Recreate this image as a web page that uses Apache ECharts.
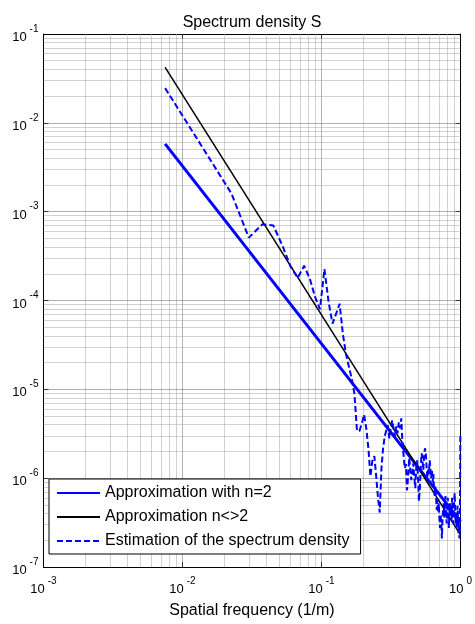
<!DOCTYPE html>
<html><head><meta charset="utf-8">
<script src="https://cdn.jsdelivr.net/npm/echarts@6/dist/echarts.min.js"></script>
<style>html,body{margin:0;padding:0;background:#fff}#c{width:475px;height:624px}</style>
</head><body><div id="c"></div>
<script>
const freqStep = 0.0075;   // spectral line spacing (1/m)
const estimation = [
  2.46e-2, 4.4e-3, 1.6e-3, 5.1e-4, 7.2e-4, 7.0e-4, 4.1e-4, 2.4e-4, 1.8e-4, 2.46e-4,
  1.75e-4, 1.09e-4, 8.0e-5, 2.26e-4, 9.6e-5, 5.5e-5, 7.1e-5, 9.2e-5, 4.2e-5, 2.5e-5,
  1.8e-5, 1.32e-5, 9.0e-6, 3.45e-6, 3.37e-6, 4.14e-6, 5.2e-6, 3.64e-6, 2.17e-6, 1.05e-6,
  1.59e-6, 1.77e-6, 1.05e-6, 6.0e-7, 4.1e-7, 1.29e-6, 2.17e-6, 2.96e-6, 3.45e-6, 3.93e-6,
  2.81e-6, 3.64e-6, 4.47e-6, 3.64e-6, 2.96e-6, 3.83e-6, 3.19e-6, 4.25e-6, 3.64e-6, 4.71e-6,
  2.47e-6, 1.77e-6, 1.29e-6, 1.44e-6, 7.3e-7, 1.05e-6, 1.68e-6, 1.29e-6, 9.5e-7, 1.11e-6,
  1.47e-6, 1.05e-6, 7.7e-7, 1.29e-6, 1.59e-6, 1.0e-6, 5.5e-7, 7.7e-7, 1.29e-6, 1.91e-6,
  1.59e-6, 1.23e-6, 1.77e-6, 2.17e-6, 2.01e-6, 1.36e-6, 1.0e-6, 1.29e-6, 1.11e-6, 1.59e-6,
  1.29e-6, 1.0e-6, 1.23e-6, 9.0e-7, 1.11e-6, 7.7e-7, 6.3e-7, 8.1e-7, 6.0e-7, 4.4e-7,
  5.7e-7, 4.2e-7, 5.2e-7, 3.6e-7, 2.75e-7, 3.9e-7, 3.05e-7, 2.1e-7, 3.4e-7, 4.4e-7,
  5.2e-7, 3.6e-7, 4.6e-7, 6.3e-7, 4.4e-7, 3.1e-7, 4.9e-7, 6.0e-7, 4.1e-7, 2.75e-7,
  4.1e-7, 5.2e-7, 3.7e-7, 4.6e-7, 3.4e-7, 6.0e-7, 4.4e-7, 3.1e-7, 4.1e-7, 5.2e-7,
  6.8e-7, 4.6e-7, 3.1e-7, 4.1e-7, 2.75e-7, 3.7e-7, 4.9e-7, 3.6e-7, 2.4e-7, 3.1e-7,
  2.1e-7, 2.9e-7, 3.1e-6
];
const approxN2Freq = [0.0075, 1];
const approxN2 = [5.8e-3, 3.26e-7];
const approxNFreq = [0.0075, 1];
const approxN = [4.2e-2, 2.3e-7];
const seriesNames = ['Approximation with n=2', 'Approximation n<>2', 'Estimation of the spectrum density'];
const xDecades = [-3, -2, -1, 0];
const yDecades = [-7, -6, -5, -4, -3, -2, -1];

const FONT = 'Liberation Sans, Arial, sans-serif';
const X_MIN = 0.001, X_MAX = 1, Y_MIN = 1e-7, Y_MAX = 0.1;
const estData = estimation.map((v, i) => [(i + 1) * freqStep, v]);
const n2Data = approxN2Freq.map((f, i) => [f, approxN2[i]]);
const nData = approxNFreq.map((f, i) => [f, approxN[i]]);

const MINOR = { color: '#a3a3a3', width: 1 };
const MAJOR = { color: '#666666', width: 1 };
function gridSegments(decades, vertical) {
  const out = [];
  for (let d = decades[0]; d < decades[decades.length - 1]; d++) {
    for (let m = 1; m <= 9; m++) {
      if (m === 1 && d === decades[0]) continue;
      const v = m * Math.pow(10, d);
      out.push({
        coords: vertical ? [[v, Y_MIN], [v, Y_MAX]] : [[X_MIN, v], [X_MAX, v]],
        lineStyle: m === 1 ? MAJOR : MINOR
      });
    }
  }
  return out;
}

const powLabel = v => '{b|10}{e|' + Math.round(Math.log10(v)) + '}';
const rich = {
  b: { fontFamily: FONT, fontSize: 13, color: '#000', lineHeight: 20, verticalAlign: 'bottom' },
  e: { fontFamily: FONT, fontSize: 10, color: '#000', lineHeight: 20, verticalAlign: 'top', padding: [0, 0, 0, 3] }
};

const chart = echarts.init(document.getElementById('c'), null, { renderer: 'canvas' });
const commonX = { type: 'log', logBase: 10, min: X_MIN, max: X_MAX, interval: 1 };
const commonY = { type: 'log', logBase: 10, min: Y_MIN, max: Y_MAX, interval: 1 };
const edgeAxis = {
  axisLine: { show: true, lineStyle: { color: '#000', width: 1 } },
  axisTick: { show: true, inside: true, length: 5, lineStyle: { color: '#000' } },
  splitLine: { show: false }
};
chart.setOption({
  animation: false,
  backgroundColor: '#fff',
  title: {
    text: 'Spectrum density S', left: 247, top: 10, textAlign: 'center',
    textStyle: { fontFamily: FONT, fontSize: 16, fontWeight: 'normal', color: '#000' }
  },
  grid: { left: 43.5, right: 9, top: 34, bottom: 55, show: false, containLabel: false },
  legend: {
    data: seriesNames, orient: 'vertical', left: 49, top: 479,
    backgroundColor: '#fff', borderColor: '#000', borderWidth: 1, borderRadius: 0,
    padding: [6, 11, 5, 7], itemWidth: 43, itemHeight: 16, itemGap: 8,
    itemStyle: { opacity: 0 },
    textStyle: { fontFamily: FONT, fontSize: 16, color: '#000' },
    selectedMode: false
  },
  xAxis: [
    Object.assign({}, commonX, edgeAxis, {
      position: 'bottom',
      name: 'Spatial frequency (1/m)', nameLocation: 'middle', nameGap: 36,
      nameTextStyle: { fontFamily: FONT, fontSize: 16, color: '#000' },
      axisLabel: { formatter: powLabel, rich: rich, margin: 9 }
    }),
    Object.assign({}, commonX, edgeAxis, { position: 'top', axisLabel: { show: false } })
  ],
  yAxis: [
    Object.assign({}, commonY, edgeAxis, {
      position: 'left',
      axisLabel: { formatter: powLabel, rich: rich, margin: 5 }
    }),
    Object.assign({}, commonY, edgeAxis, { position: 'right', axisLabel: { show: false } })
  ],
  series: [
    {
      name: 'gridlines', type: 'lines', coordinateSystem: 'cartesian2d', silent: true, z: 1,
      polyline: false, symbol: ['none', 'none'], effect: { show: false },
      data: gridSegments(xDecades, true).concat(gridSegments(yDecades, false))
    },
    {
      name: seriesNames[0], type: 'line', data: n2Data, symbol: 'none', z: 3,
      lineStyle: { color: '#0000ff', width: 3 }, itemStyle: { color: '#0000ff' }
    },
    {
      name: seriesNames[1], type: 'line', data: nData, symbol: 'none', z: 4,
      lineStyle: { color: '#000', width: 1.5 }, itemStyle: { color: '#000' }
    },
    {
      name: seriesNames[2], type: 'line', data: estData, symbol: 'none', z: 5,
      lineStyle: { color: '#0000ff', width: 2, type: [6, 3] }, itemStyle: { color: '#0000ff' }
    }
  ]
});
</script></body></html>
